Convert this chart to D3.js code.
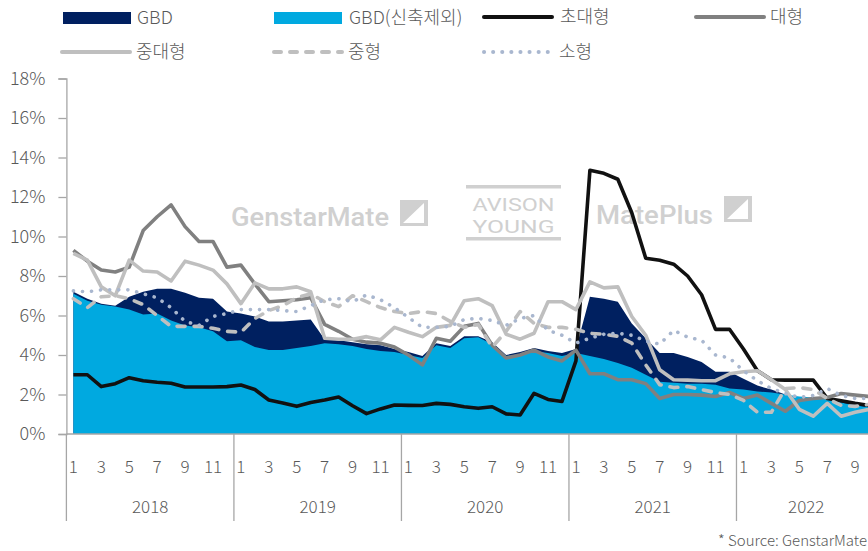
<!DOCTYPE html>
<html>
<head>
<meta charset="utf-8">
<script src="https://cdn.jsdelivr.net/npm/d3@7"></script>
<style>
  body { margin: 0; background: #fff; }
  svg { display: block; font-family: "Noto Sans CJK KR", "Noto Sans", sans-serif; }
</style>
</head>
<body>
<svg id="chart" width="868" height="551"></svg>
<script>
// monthly categories: Jan 2018 .. Oct 2022
const years = [2018, 2019, 2020, 2021, 2022];
const monthsPerYear = [12, 12, 12, 12, 10];

// vacancy rates (%)
const gbd = [7.2, 6.85, 6.6, 6.5, 6.95, 7.2, 7.35, 7.35, 7.15, 6.9, 6.85, 6.2,
  6.1, 5.95, 5.7, 5.7, 5.75, 5.8, 4.8, 4.75, 4.65, 4.55, 4.5, 4.3,
  4.15, 3.95, 4.6, 4.45, 4.95, 4.95, 4.65, 4.0, 4.15, 4.35, 4.2, 4.1,
  4.3, 6.95, 6.85, 6.7, 5.6, 4.85, 4.1, 4.1, 3.9, 3.65, 3.15, 3.15,
  2.8, 2.45, 2.25, 2.0, 1.85, 1.75, 1.75, 1.65, 1.5, 1.4];
const gbdExNew = [7.1, 6.75, 6.55, 6.45, 6.3, 6.05, 6.1, 5.75, 5.5, 5.4, 5.2, 4.7,
  4.75, 4.4, 4.25, 4.25, 4.35, 4.45, 4.6, 4.55, 4.45, 4.3, 4.2, 4.15,
  4.0, 3.85, 4.5, 4.35, 4.85, 4.9, 4.55, 3.95, 4.05, 4.2, 4.1, 3.95,
  4.1, 3.95, 3.8, 3.6, 3.35, 3.0, 2.65, 2.6, 2.55, 2.55, 2.5, 2.3,
  2.25, 2.15, 2.1, 2.0, 1.9, 1.85, 1.75, 1.6, 1.45, 1.35];
const superLarge = [3.0, 3.0, 2.4, 2.55, 2.85, 2.7, 2.62, 2.57, 2.38, 2.38, 2.38, 2.4,
  2.48, 2.25, 1.72, 1.57, 1.4, 1.6, 1.72, 1.87, 1.43, 1.03, 1.27, 1.47,
  1.45, 1.44, 1.55, 1.5, 1.38, 1.3, 1.38, 1.02, 0.96, 2.06, 1.75, 1.65,
  3.7, 13.35, 13.2, 12.9, 11.2, 8.9, 8.8, 8.6, 8.0, 7.05, 5.3, 5.3,
  4.3, 3.2, 2.75, 2.73, 2.73, 2.73, 1.8, 1.68, 1.55, 1.45];
const large = [9.3, 8.75, 8.3, 8.2, 8.45, 10.3, 11.0, 11.6, 10.5, 9.75, 9.75, 8.45,
  8.55, 7.6, 6.7, 6.75, 6.8, 6.9, 5.55, 5.2, 4.8, 4.65, 4.6, 4.4,
  4.0, 3.5, 4.85, 4.7, 5.45, 5.6, 4.5, 3.85, 4.0, 4.25, 3.9, 3.7,
  4.25, 3.05, 3.05, 2.75, 2.75, 2.55, 1.8, 2.0, 2.0, 1.97, 1.9, 2.1,
  1.8, 1.97, 1.55, 1.15, 1.7, 1.8, 1.85, 2.05, 1.97, 1.9];
const midLarge = [9.15, 8.8, 7.45, 7.0, 8.8, 8.25, 8.2, 7.75, 8.75, 8.55, 8.3, 7.6,
  6.6, 7.65, 7.35, 7.35, 7.45, 7.2, 4.85, 4.8, 4.8, 4.93, 4.77, 5.4,
  5.15, 4.93, 5.4, 5.5, 6.75, 6.85, 6.5, 5.05, 4.8, 5.1, 6.7, 6.7,
  6.3, 7.7, 7.4, 7.45, 5.95, 5.0, 3.25, 2.75, 2.73, 2.7, 2.7, 3.05,
  3.15, 3.2, 2.75, 2.25, 1.25, 0.9, 1.55, 0.9, 1.1, 1.25];
const medium = [6.85, 6.4, 6.95, 7.0, 6.85, 6.55, 6.0, 5.45, 5.45, 5.45, 5.35, 5.2,
  5.15, 5.85, 6.25, 6.5, 6.9, 7.1, 6.7, 6.45, 7.0, 6.7, 6.4, 6.2,
  6.1, 6.2, 6.1, 5.7, 5.4, 5.55, 4.4, 5.2, 6.2, 5.6, 5.4, 5.4,
  5.3, 5.1, 5.05, 4.95, 4.6, 3.5, 2.5, 2.35, 2.4, 2.25, 2.1, 2.0,
  1.7, 1.1, 1.1, 2.3, 2.35, 2.25, 1.8, 1.45, 1.4, 1.5];
const small = [7.25, 7.2, 7.3, 7.3, 7.3, 7.1, 6.9, 6.4, 5.7, 5.5, 5.95, 6.1,
  6.3, 6.3, 6.3, 6.25, 6.2, 6.5, 6.8, 6.85, 6.7, 7.04, 6.8, 6.4,
  5.9, 5.4, 5.4, 5.45, 5.8, 5.85, 5.75, 5.5, 5.85, 6.0, 5.25, 5.0,
  4.6, 4.85, 5.05, 5.1, 5.0, 4.7, 4.55, 5.25, 4.9, 4.75, 4.0, 3.85,
  3.2, 2.7, 2.3, 2.05, 1.85, 1.95, 2.3, 1.95, 1.8, 1.8];

const yTicks = [0, 2, 4, 6, 8, 10, 12, 14, 16, 18];

const periods = [];
years.forEach((yr, k) => {
  for (let m = 1; m <= monthsPerYear[k]; m++) periods.push({ year: yr, month: m });
});

const svg = d3.select("#chart");
const textColor = "#595959";
const axisColor = "#a6a6a6";

const monthW = 13.96;
const x = d3.scaleBand()
  .domain(d3.range(periods.length))
  .range([66.4, 66.4 + monthW * periods.length])
  .padding(0);
const cx = (i) => x(i) + x.bandwidth() / 2;
const y = d3.scaleLinear().domain([0, 18]).range([434, 78.5]);

// watermarks (logos of the data sources)
const wm = svg.append("g").attr("fill", "#d0d0d0");
wm.append("text").attr("x", 231).attr("y", 226)
  .attr("font-family", "Roboto, sans-serif").attr("font-weight", 500)
  .attr("font-size", 25).attr("textLength", 158).attr("lengthAdjust", "spacingAndGlyphs")
  .text("GenstarMate");
wm.append("path").attr("d", "M400,200 H428 V226 H400 Z M403,223 L424,203 L424,223 Z")
  .attr("fill-rule", "evenodd");
wm.append("rect").attr("x", 466).attr("y", 185).attr("width", 95).attr("height", 3.5);
wm.append("rect").attr("x", 466).attr("y", 237).attr("width", 95).attr("height", 3.5);
wm.append("text").attr("x", 513.5).attr("y", 211).attr("text-anchor", "middle")
  .attr("font-family", "Roboto, sans-serif").attr("font-size", 19)
  .attr("textLength", 82).attr("lengthAdjust", "spacingAndGlyphs").text("AVISON");
wm.append("text").attr("x", 513.5).attr("y", 233).attr("text-anchor", "middle")
  .attr("font-family", "Roboto, sans-serif").attr("font-size", 19)
  .attr("textLength", 82).attr("lengthAdjust", "spacingAndGlyphs").text("YOUNG");
wm.append("text").attr("x", 596).attr("y", 224)
  .attr("font-family", "Roboto, sans-serif").attr("font-weight", 500)
  .attr("font-size", 26).attr("textLength", 117).attr("lengthAdjust", "spacingAndGlyphs")
  .text("MatePlus");
wm.append("path").attr("d", "M724,196 H752 V222 H724 Z M727,219 L748,199 L748,219 Z")
  .attr("fill-rule", "evenodd");

// areas
const area = d3.area().x((d, i) => cx(i)).y0(y(0)).y1((d) => y(d));
svg.append("path").datum(gbd).attr("d", area).attr("fill", "#002060");
svg.append("path").datum(gbdExNew).attr("d", area).attr("fill", "#00a9e0");

// axes
const yAxis = svg.append("g").attr("transform", "translate(66.4,0)")
  .call(d3.axisLeft(y).tickValues(yTicks).tickSize(8).tickPadding(13).tickFormat((d) => d + "%"));
yAxis.select(".domain").attr("stroke", axisColor).attr("stroke-width", 1.3);
yAxis.selectAll(".tick line").attr("stroke", axisColor).attr("stroke-width", 1.3);
yAxis.selectAll(".tick text").attr("fill", textColor).attr("font-size", 18)
  .attr("font-family", "'Noto Sans CJK KR', sans-serif").attr("font-weight", 300);

svg.append("line").attr("x1", 66.4).attr("x2", 880).attr("y1", y(0)).attr("y2", y(0))
  .attr("stroke", axisColor).attr("stroke-width", 1.3);

// year dividers and labels
let start = 0;
years.forEach((yr, k) => {
  const x0 = x(start);
  svg.append("line").attr("x1", x0).attr("x2", x0).attr("y1", y(0)).attr("y2", 521)
    .attr("stroke", axisColor).attr("stroke-width", 1.3);
  const xm = x0 + monthsPerYear[k] * monthW / 2;
  svg.append("text").attr("x", xm).attr("y", 513).attr("text-anchor", "middle")
    .attr("fill", textColor).attr("font-size", 17).attr("font-weight", 300).text(yr);
  start += monthsPerYear[k];
});

svg.append("g").selectAll("text")
  .data(periods.map((p, i) => ({ ...p, i })).filter((p) => p.month % 2 === 1))
  .join("text")
  .attr("x", (d) => cx(d.i)).attr("y", 473).attr("text-anchor", "middle")
  .attr("fill", textColor).attr("font-size", 17).attr("font-weight", 300)
  .text((d) => d.month);

// lines
const line = d3.line().x((d, i) => cx(i)).y((d) => y(d));
const series = [
  { name: "초대형", data: superLarge, color: "#111111", dash: null },
  { name: "대형", data: large, color: "#808080", dash: null },
  { name: "중대형", data: midLarge, color: "#bfbfbf", dash: null },
  { name: "중형", data: medium, color: "#bfbfbf", dash: "8 9" },
  { name: "소형", data: small, color: "#a9b7cf", dash: "0.1 9" },
];
series.forEach((s) => {
  svg.append("path").datum(s.data).attr("d", line)
    .attr("fill", "none").attr("stroke", s.color).attr("stroke-width", 3.6)
    .attr("stroke-linejoin", "round")
    .attr("stroke-linecap", s.dash ? "round" : "butt")
    .attr("stroke-dasharray", s.dash);
});

// legend
const legend = svg.append("g").attr("font-size", 18).attr("fill", textColor).attr("font-weight", 300);
const legendItems = [
  { name: "GBD", kind: "rect", color: "#002060", x: 63, y: 18, tx: 137 },
  { name: "GBD(신축제외)", kind: "rect", color: "#00a9e0", x: 274, y: 18, tx: 349 },
  { name: "초대형", kind: "line", color: "#111111", x: 484, y: 17, tx: 560 },
  { name: "대형", kind: "line", color: "#808080", x: 696, y: 17, tx: 770 },
  { name: "중대형", kind: "line", color: "#bfbfbf", x: 62, y: 52, tx: 136 },
  { name: "중형", kind: "line", color: "#bfbfbf", x: 274, y: 52, tx: 348, dash: "7 9" },
  { name: "소형", kind: "line", color: "#a9b7cf", x: 484, y: 52, tx: 559, dash: "0.1 9" },
];
legendItems.forEach((d) => {
  if (d.kind === "rect") {
    legend.append("rect").attr("x", d.x).attr("y", d.y - 6).attr("width", 68).attr("height", 12)
      .attr("fill", d.color);
  } else {
    legend.append("line").attr("x1", d.x).attr("x2", d.x + 68).attr("y1", d.y).attr("y2", d.y)
      .attr("stroke", d.color).attr("stroke-width", 4)
      .attr("stroke-linecap", "round").attr("stroke-dasharray", d.dash || null);
  }
  legend.append("text").attr("x", d.tx).attr("y", d.y + 6).text(d.name);
});

svg.append("text").attr("x", 867).attr("y", 546).attr("text-anchor", "end")
  .attr("fill", textColor).attr("font-size", 15).attr("font-weight", 300)
  .text("* Source: GenstarMate");
</script>
</body>
</html>
